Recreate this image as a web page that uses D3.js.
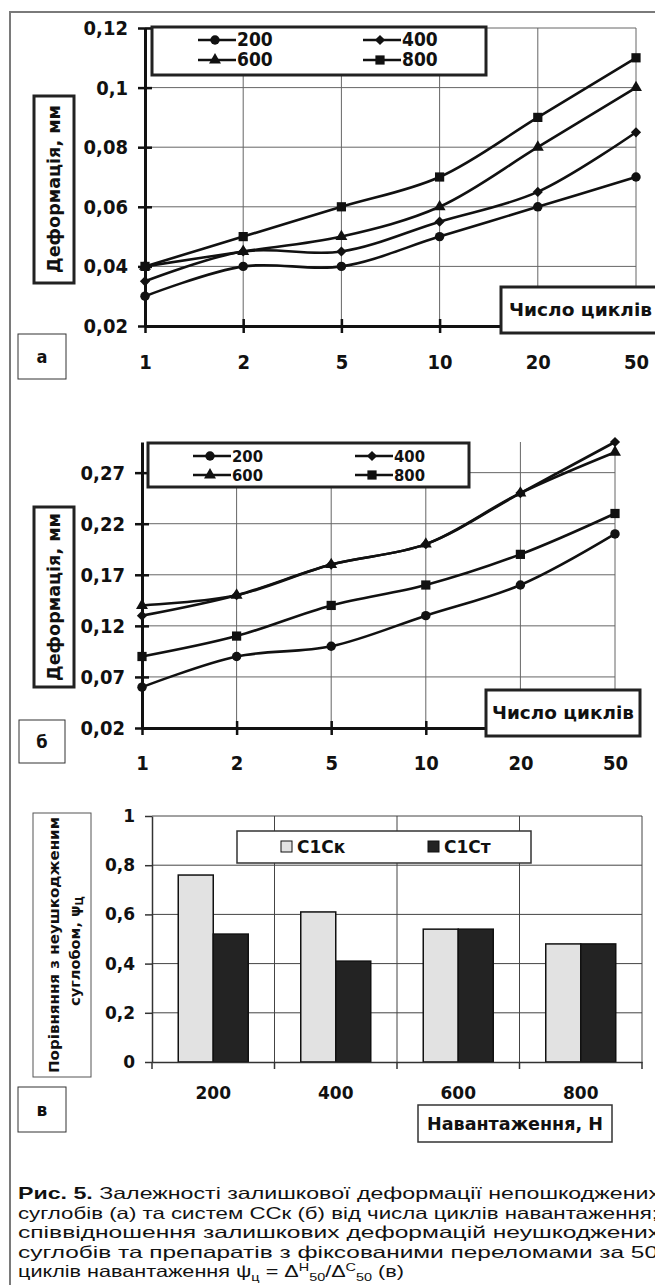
<!DOCTYPE html>
<html>
<head>
<meta charset="utf-8">
<script src="https://cdn.jsdelivr.net/npm/d3@7"></script>
<style>
body{margin:0;background:#fff}
svg{display:block}
</style>
</head>
<body>
<script>
// x categories (number of cycles)
const cycles = ["1", "2", "5", "10", "20", "50"];
const loadNames = ["200", "400", "600", "800"];
// panel a - undamaged joints
const a200 = [0.03, 0.04, 0.04, 0.05, 0.06, 0.07];
const a400 = [0.035, 0.045, 0.045, 0.055, 0.065, 0.085];
const a600 = [0.04, 0.045, 0.05, 0.06, 0.08, 0.1];
const a800 = [0.04, 0.05, 0.06, 0.07, 0.09, 0.11];
const ticksA = [0.02, 0.04, 0.06, 0.08, 0.1, 0.12];
const labelsA = ["0,02", "0,04", "0,06", "0,08", "0,1", "0,12"];
// panel b - ССк systems
const b200 = [0.06, 0.09, 0.10, 0.13, 0.16, 0.21];
const b400 = [0.13, 0.15, 0.18, 0.20, 0.25, 0.30];
const b600 = [0.14, 0.15, 0.18, 0.20, 0.25, 0.29];
const b800 = [0.09, 0.11, 0.14, 0.16, 0.19, 0.23];
const ticksB = [0.02, 0.07, 0.12, 0.17, 0.22, 0.27];
const labelsB = ["0,02", "0,07", "0,12", "0,17", "0,22", "0,27"];
// panel c - ratio psi
const barCats = ["200", "400", "600", "800"];
const barSeries = ["С1Ск", "С1Ст"];
const c1ck = [0.76, 0.61, 0.54, 0.48];
const c1ct = [0.52, 0.41, 0.54, 0.48];
const ticksC = [0, 0.2, 0.4, 0.6, 0.8, 1];
const labelsC = ["0", "0,2", "0,4", "0,6", "0,8", "1"];

const W = 655, H = 1285;
const cond = "'DejaVu Sans Condensed', 'DejaVu Sans', sans-serif";
const wide = "'DejaVu Sans', Verdana, sans-serif";

let svg = d3.select("body").append("svg")
    .attr("width", W).attr("height", H);

// outer gray frame (left and top)
svg.append("path")
    .attr("d", `M10,${H} L10,12 L${W},12`)
    .attr("fill", "none").attr("stroke", "#7a7a7a").attr("stroke-width", 2);

let symbols = [
    d3.symbol().type(d3.symbolCircle).size(70),
    d3.symbol().type(d3.symbolSquare).size(52),   // rotated -> diamond
    d3.symbol().type(d3.symbolTriangle).size(62),
    d3.symbol().type(d3.symbolSquare).size(85)
];
let symRot = [0, 45, 0, 0];

function boxText(x, y, w, h, txt, o) {
    o = o || {};
    svg.append("rect").attr("x", x).attr("y", y).attr("width", w).attr("height", h)
        .attr("fill", "#fff").attr("stroke", o.stroke || "#333").attr("stroke-width", o.sw || 1);
    let t = svg.append("text")
        .attr("x", o.tx != null ? o.tx : x + w / 2)
        .attr("y", y + h / 2)
        .attr("dy", "0.36em")
        .attr("text-anchor", o.tx != null ? "start" : "middle")
        .attr("font-family", o.font || cond).attr("font-weight", "bold")
        .attr("font-size", o.fs || 18).attr("fill", "#111")
        .text(txt);
    if (o.len) t.attr("textLength", o.len).attr("lengthAdjust", "spacingAndGlyphs");
    return t;
}

function vLabel(cx, cy, x, y, w, h, txt, len) {
    svg.append("rect").attr("x", x).attr("y", y).attr("width", w).attr("height", h)
        .attr("fill", "#fff").attr("stroke", "#222").attr("stroke-width", 3);
    svg.append("text")
        .attr("transform", `translate(${cx},${cy}) rotate(-90)`)
        .attr("text-anchor", "middle").attr("dy", "0.36em")
        .attr("font-family", cond).attr("font-weight", "bold").attr("font-size", 18)
        .attr("fill", "#111")
        .attr("textLength", len).attr("lengthAdjust", "spacingAndGlyphs")
        .text(txt);
}

function linePanel(o) {
    let x = d3.scalePoint().domain(cycles).range([o.x0, o.x1]);
    let y = d3.scaleLinear().domain(o.domain).range([o.yb, o.yt]);
    let g = svg.append("g");

    // gridlines
    g.selectAll("line.hg").data(o.ticks.slice(1))
        .join("line")
        .attr("x1", o.x0).attr("x2", o.x1)
        .attr("y1", d => y(d)).attr("y2", d => y(d))
        .attr("stroke", "#666").attr("stroke-width", 1);
    g.selectAll("line.vg").data(cycles.slice(1))
        .join("line")
        .attr("x1", d => x(d)).attr("x2", d => x(d))
        .attr("y1", o.yt).attr("y2", o.yb)
        .attr("stroke", "#666").attr("stroke-width", 1);

    // y axis
    let ya = g.append("g").attr("transform", `translate(${o.x0},0)`)
        .call(d3.axisLeft(y).tickValues(o.ticks).tickFormat((d, i) => o.labels[i])
            .tickSizeInner(7).tickSizeOuter(0).tickPadding(10));
    ya.select(".domain").attr("stroke", "#111").attr("stroke-width", 3);
    ya.selectAll(".tick line").attr("x1", 7).attr("stroke", "#111").attr("stroke-width", 2.5);
    ya.selectAll(".tick text").attr("font-family", cond).attr("font-weight", "bold")
        .attr("font-size", 20).attr("fill", "#111");

    // x axis
    let xa = g.append("g").attr("transform", `translate(0,${o.yb})`)
        .call(d3.axisBottom(x).tickSizeInner(7).tickSizeOuter(0));
    xa.select(".domain").attr("stroke", "#111").attr("stroke-width", 3);
    xa.selectAll(".tick line").attr("y1", -7).attr("stroke", "#111").attr("stroke-width", 2.5);
    xa.selectAll(".tick text").attr("y", o.xlab).attr("dy", null)
        .attr("font-family", cond).attr("font-weight", "bold")
        .attr("font-size", 20).attr("fill", "#111");

    // series
    let line = d3.line()
        .x((d, i) => x(cycles[i]))
        .y(d => y(d))
        .curve(d3.curveCatmullRom.alpha(0.5));
    o.series.forEach((s, k) => {
        g.append("path").datum(s).attr("d", line)
            .attr("fill", "none").attr("stroke", "#111").attr("stroke-width", 2.6);
        g.selectAll("path.m" + k).data(s).join("path")
            .attr("d", symbols[k])
            .attr("transform", (d, i) => `translate(${x(cycles[i])},${y(d)}) rotate(${symRot[k]})`)
            .attr("fill", "#111");
    });

    // legend
    let L = o.legend;
    svg.append("rect").attr("x", L.x).attr("y", L.y).attr("width", L.w).attr("height", L.h)
        .attr("fill", "#fff").attr("stroke", "#222").attr("stroke-width", 3);
    loadNames.forEach((n, k) => {
        let col = k % 2, row = Math.floor(k / 2);
        let lx = L.ex[col], ly = L.ey[row];
        svg.append("line").attr("x1", lx).attr("x2", lx + 38).attr("y1", ly).attr("y2", ly)
            .attr("stroke", "#111").attr("stroke-width", 2.5);
        svg.append("path").attr("d", symbols[k])
            .attr("transform", `translate(${lx + 17},${ly}) rotate(${symRot[k]})`)
            .attr("fill", "#111");
        svg.append("text").attr("x", lx + 39).attr("y", ly).attr("dy", "0.34em")
            .attr("font-family", cond).attr("font-weight", "bold").attr("font-size", L.fs)
            .attr("fill", "#111").text(n);
    });
}

// ---- panel a
linePanel({
    x0: 145, x1: 636, yt: 28, yb: 326, xlab: 43,
    domain: [0.02, 0.12], ticks: ticksA, labels: labelsA,
    series: [a200, a400, a600, a800],
    legend: {x: 152, y: 27, w: 334, h: 48, ex: [198, 363], ey: [40, 60], fs: 19}
});
vLabel(54, 189, 34, 96, 40, 187, "Деформація, мм", 168);
boxText(501, 287, 170, 46, "Число циклів", {sw: 3, stroke: "#222", tx: 509, len: 143, fs: 18});
boxText(18, 334, 48, 45, "а", {fs: 18});

// ---- panel b
linePanel({
    x0: 142, x1: 615, yt: 442, yb: 728, xlab: 42,
    domain: [0.02, 0.30], ticks: ticksB, labels: labelsB,
    series: [b200, b400, b600, b800],
    legend: {x: 148, y: 443, w: 321, h: 44, ex: [193, 355], ey: [456, 475], fs: 16.5}
});
vLabel(54, 597, 34, 507, 40, 180, "Деформація, мм", 168);
boxText(486, 690, 154, 46, "Число циклів", {sw: 3, stroke: "#222", tx: 492, len: 142, fs: 18});
boxText(19, 720, 46, 43, "б", {fs: 18});

// ---- panel c
(function() {
    let x0 = d3.scaleBand().domain(barCats).range([152, 642]);
    let x1 = d3.scaleBand().domain(barSeries).range([0, x0.bandwidth()]).paddingOuter(0.75);
    let y = d3.scaleLinear().domain([0, 1]).range([1062, 816]);
    let g = svg.append("g");

    g.selectAll("line.hg").data(ticksC.slice(1)).join("line")
        .attr("x1", 152).attr("x2", 642)
        .attr("y1", d => y(d)).attr("y2", d => y(d))
        .attr("stroke", "#444").attr("stroke-width", 1);
    let bounds = barCats.slice(1).map(c => x0(c)).concat([x0.range()[1]]);
    g.selectAll("line.vg").data(bounds).join("line")
        .attr("x1", d => d).attr("x2", d => d)
        .attr("y1", y(1)).attr("y2", y(0))
        .attr("stroke", "#444").attr("stroke-width", 1);

    let vals = [c1ck, c1ct];
    let fills = ["#e2e2e2", "#232323"];
    barSeries.forEach((s, k) => {
        g.selectAll("rect.s" + k).data(vals[k]).join("rect")
            .attr("x", (d, i) => x0(barCats[i]) + x1(s))
            .attr("y", d => y(d))
            .attr("width", x1.bandwidth())
            .attr("height", d => y(0) - y(d))
            .attr("fill", fills[k]).attr("stroke", "#111").attr("stroke-width", 1.5);
    });

    let ya = g.append("g").attr("transform", "translate(152,0)")
        .call(d3.axisLeft(y).tickValues(ticksC).tickFormat((d, i) => labelsC[i])
            .tickSizeInner(7).tickSizeOuter(0).tickPadding(10));
    ya.select(".domain").attr("stroke", "#333").attr("stroke-width", 1.5);
    ya.selectAll(".tick line").attr("stroke", "#333").attr("stroke-width", 1.5);
    ya.selectAll(".tick text").attr("font-family", wide).attr("font-weight", "bold")
        .attr("font-size", 17).attr("fill", "#111");

    let xa = g.append("g").attr("transform", "translate(0,1062)")
        .call(d3.axisBottom(x0).tickSize(0).tickSizeOuter(0));
    xa.select(".domain").attr("stroke", "#333").attr("stroke-width", 1.5);
    xa.selectAll(".tick text").attr("y", 37).attr("dy", null)
        .attr("font-family", wide).attr("font-weight", "bold")
        .attr("font-size", 17).attr("fill", "#111");
    xa.selectAll("line.bt").data([x0.range()[0]].concat(bounds)).join("line")
        .attr("x1", d => d).attr("x2", d => d).attr("y1", 0).attr("y2", 7)
        .attr("stroke", "#333").attr("stroke-width", 1.5);

    // legend
    svg.append("rect").attr("x", 237).attr("y", 831).attr("width", 294).attr("height", 32)
        .attr("fill", "#fff").attr("stroke", "#333").attr("stroke-width", 1.5);
    let lx = [281, 428];
    barSeries.forEach((s, k) => {
        svg.append("rect").attr("x", lx[k]).attr("y", 841).attr("width", 11).attr("height", 11)
            .attr("fill", fills[k]).attr("stroke", "#111").attr("stroke-width", 1);
        svg.append("text").attr("x", lx[k] + 16).attr("y", 847).attr("dy", "0.36em")
            .attr("font-family", wide).attr("font-weight", "bold").attr("font-size", 17)
            .attr("fill", "#111").text(s);
    });

    // y label with two lines
    svg.append("rect").attr("x", 33).attr("y", 813).attr("width", 58).attr("height", 264)
        .attr("fill", "#fff").attr("stroke", "#555").attr("stroke-width", 1);
    svg.append("text").attr("transform", "translate(54,945) rotate(-90)")
        .attr("text-anchor", "middle").attr("dy", "0.36em")
        .attr("font-family", wide).attr("font-weight", "bold").attr("font-size", 14.5)
        .attr("fill", "#111").attr("textLength", 256).attr("lengthAdjust", "spacingAndGlyphs")
        .text("Порівняння з неушкодженим");
    let t2 = svg.append("text").attr("transform", "translate(75,951) rotate(-90)")
        .attr("text-anchor", "middle").attr("dy", "0.36em")
        .attr("font-family", wide).attr("font-weight", "bold").attr("font-size", 14.5)
        .attr("fill", "#111");
    t2.append("tspan").text("суглобом, ψ");
    t2.append("tspan").attr("font-size", 10).attr("dy", 3).text("Ц");

    boxText(418, 1105, 194, 37, "Навантаження, Н", {font: wide, fs: 17, len: 176, stroke: "#333", sw: 1.5});
    boxText(18, 1087, 48, 45, "в", {font: wide, fs: 17});
})();

// ---- caption
const capFont = "'Liberation Sans', Arial, sans-serif";
const capLines = [
    [["Рис. 5.", "b"], [" Залежності залишкової деформації непошкоджених", ""]],
    [["суглобів (а) та систем ССк (б) від числа циклів навантаження;", ""]],
    [["співвідношення залишкових деформацій неушкоджених", ""]],
    [["суглобів та препаратів з фіксованими переломами за 50", ""]],
    [["циклів навантаження ψ", ""], ["ц", "sub"], [" = Δ", "r"], ["Н", "sup"], ["50", "sub2"],
     ["/Δ", "r"], ["С", "sup"], ["50", "sub2"], [" (в)", "r"]]
];
const capBase = [1199, 1218.5, 1238, 1257.5, 1277];
const capLen = [642, 640, 642, 640, 386];
capLines.forEach((parts, i) => {
    let t = svg.append("text").attr("x", 18).attr("y", capBase[i])
        .attr("font-family", capFont).attr("font-size", 16.5).attr("fill", "#111");
    parts.forEach(p => {
        let sp = t.append("tspan").text(p[0]);
        if (p[1] === "b") sp.attr("font-weight", "bold");
        if (p[1] === "sub") sp.attr("font-size", 11).attr("dy", 4);
        if (p[1] === "r") sp.attr("dy", -4);
        if (p[1] === "sup") sp.attr("font-size", 11).attr("dy", -6);
        if (p[1] === "sub2") sp.attr("font-size", 11).attr("dy", 10);
    });
    t.attr("textLength", capLen[i]).attr("lengthAdjust", "spacingAndGlyphs");
});
</script>
</body>
</html>
